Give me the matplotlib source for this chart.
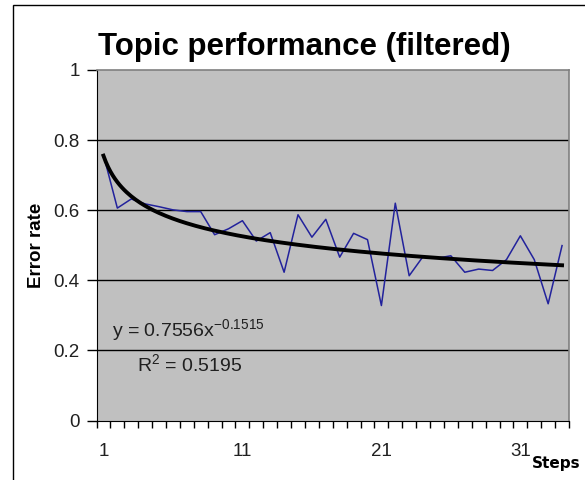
import matplotlib
matplotlib.use("Agg")
import matplotlib.pyplot as plt
import numpy as np
from matplotlib.patches import Rectangle

steps = list(range(1, 35))
error_rate = [0.758, 0.606, 0.632, 0.618, 0.610, 0.601, 0.596, 0.596, 0.530, 0.547,
              0.570, 0.512, 0.536, 0.423, 0.587, 0.523, 0.574, 0.466, 0.534, 0.516,
              0.328, 0.620, 0.413, 0.468, 0.463, 0.470, 0.423, 0.432, 0.428, 0.459,
              0.527, 0.459, 0.333, 0.499]
trend_a = 0.7556
trend_b = -0.1515
r_squared = 0.5195
x_labels = ["1", "11", "21", "31"]
y_ticks = [0, 0.2, 0.4, 0.6, 0.8, 1]
y_labels = ["0", "0.2", "0.4", "0.6", "0.8", "1"]

plt.rcParams['font.family'] = ['Liberation Sans', 'DejaVu Sans']

fig = plt.figure(figsize=(5.85, 4.8), dpi=100)
fig.patch.set_facecolor('white')
# chart area border (cut off at right and bottom)
fig.patches.append(Rectangle((13/585, -0.5), 2, 1.5 - 5/480, transform=fig.transFigure,
                             fill=False, edgecolor='black', linewidth=1.0))

ax = fig.add_axes([96.5/585, (480-420.5)/480, (569-96.5)/585, (420.5-70)/480])
ax.set_facecolor('#C0C0C0')
for s in ['top', 'right']:
    ax.spines[s].set_color('#808080')
    ax.spines[s].set_linewidth(1.2)
ax.spines['left'].set_color('black')
ax.spines['bottom'].set_color('black')

ax.set_ylim(0, 1)
ax.set_xlim(0.5, 34.5)
ax.set_yticks(y_ticks)
ax.set_yticklabels(y_labels, fontsize=13.5, color='#202020')
ax.tick_params(axis='y', direction='out', length=7, width=1, pad=5)
for yv in y_ticks[1:-1]:
    ax.axhline(yv, color='black', linewidth=1.0, zorder=1)

ax.set_xticks([1, 11, 21, 31])
ax.set_xticklabels(x_labels, fontsize=13.5, color='#202020')
ax.set_xticks(np.arange(0.5, 35, 1), minor=True)
ax.tick_params(axis='x', which='major', length=0, pad=16)
ax.tick_params(axis='x', which='minor', direction='out', length=5, width=1)

ax.plot(steps, error_rate, color='#22229C', linewidth=1.1, zorder=3)
xs = np.linspace(1, 34, 200)
ax.plot(xs, trend_a * xs ** trend_b, color='black', linewidth=2.8, zorder=4)

ax.set_ylabel('Error rate', fontsize=13.5, fontweight='bold', labelpad=6)
fig.text(304/585, 1 - 55/480, 'Topic performance (filtered)', fontsize=22.5, fontweight='bold',
         ha='center', va='baseline')
fig.text(532/585, 1 - 468/480, 'Steps', fontsize=11, fontweight='bold', ha='left',
         va='baseline', family=['DejaVu Sans'])

fig.text(112/585, 1 - 337/480, 'y = %.4fx$^{\\mathregular{%.4f}}$' % (trend_a, trend_b),
         fontsize=14, ha='left', va='baseline', color='#202020')
fig.text(137/585, 1 - 372/480, 'R$^{\\mathregular{2}}$ = %.4f' % r_squared, fontsize=14,
         ha='left', va='baseline', color='#202020')

fig.savefig('out.png', dpi=100)
